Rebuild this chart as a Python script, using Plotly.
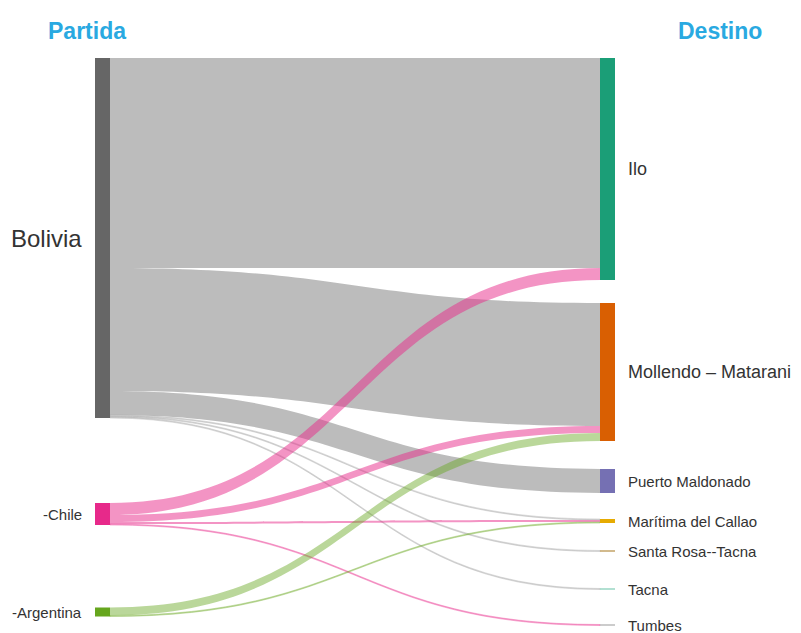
import plotly.graph_objects as go

# ---- data ----
origins = ["Bolivia", "-Chile", "-Argentina"]
destinations = ["Ilo", "Mollendo – Matarani", "Puerto Maldonado", "Marítima del Callao",
                "Santa Rosa--Tacna", "Tacna", "Tumbes"]
link_from = ["Bolivia", "Bolivia", "Bolivia", "Bolivia", "Bolivia", "Bolivia",
             "-Chile", "-Chile", "-Chile", "-Chile",
             "-Argentina", "-Argentina"]
link_to = ["Ilo", "Mollendo – Matarani", "Puerto Maldonado", "Marítima del Callao", "Santa Rosa--Tacna", "Tacna",
           "Ilo", "Mollendo – Matarani", "Marítima del Callao", "Tumbes",
           "Mollendo – Matarani", "Marítima del Callao"]
link_value = [210, 123, 24, 1, 1, 1,
              12, 7, 2, 1,
              8, 1]

# ---- styling / layout ----
W, H = 801, 633
L, R, T, B = 95, 615, 58, 626      # wanted node extent (px)
ml, mt = L, T
pw, ph = R - L, B - T
node_thick = 15
origin_colors = ["#666666", "#e7298a", "#66a61e"]
origin_link_rgb = ["160,160,160", "231,41,138", "102,166,30"]
origin_link_alpha = [0.7, 0.5, 0.45]
thin_alpha = 0.35
dest_colors = ["#1b9e77", "#d95f02", "#7570b3", "#e6ab02", "#a6761d", "#66c2a5", "#999999"]
origin_cy = [238, 514, 612]            # node centres (px)
dest_cy = [169, 372, 481, 521, 551, 589, 625]
origin_fs = [24, 15, 15]
dest_fs = [18, 18, 15, 15, 15, 15, 15]

names = origins + destinations
idx = {n: i for i, n in enumerate(names)}
xs = [(node_thick / 2) / pw] * len(origins) + [(pw - node_thick / 2) / pw] * len(destinations)
ys = [(c - T) / ph for c in origin_cy + dest_cy]


def px_x(p):
    return (p - ml) / pw


def px_y(p):
    return 1 - (p - mt) / ph


link_colors = []
for s, v in zip(link_from, link_value):
    k = origins.index(s)
    a = origin_link_alpha[k] if v > 1 else thin_alpha
    link_colors.append("rgba(%s,%s)" % (origin_link_rgb[k], a))

fig = go.Figure(go.Sankey(
    arrangement="fixed",
    domain=dict(x=[0, 1], y=[0, 1]),
    node=dict(
        label=["" for _ in names],
        customdata=names,
        hovertemplate="%{customdata}<extra></extra>",
        x=xs, y=ys,
        pad=29.5, thickness=node_thick,
        color=origin_colors + dest_colors,
        line=dict(width=0),
    ),
    link=dict(
        source=[idx[s] for s in link_from],
        target=[idx[t] for t in link_to],
        value=link_value,
        color=link_colors,
    ),
))

ann = []
for n, cy, fs in zip(origins, origin_cy, origin_fs):
    ann.append(dict(text=n, xref="paper", yref="paper", x=px_x(L - 11), y=px_y(cy),
                    xanchor="right", yanchor="middle", showarrow=False,
                    font=dict(size=fs, color="#333333")))
for n, cy, fs in zip(destinations, dest_cy, dest_fs):
    ann.append(dict(text=n, xref="paper", yref="paper", x=px_x(R + 11), y=px_y(cy),
                    xanchor="left", yanchor="middle", showarrow=False,
                    font=dict(size=fs, color="#333333")))
for txt, px in [("Partida", 87), ("Destino", 720)]:
    ann.append(dict(text="<b>%s</b>" % txt, xref="paper", yref="paper",
                    x=px_x(px), y=px_y(31), xanchor="center", yanchor="middle",
                    showarrow=False, font=dict(size=23, color="#29a9e1")))

fig.update_layout(
    width=W, height=H,
    margin=dict(l=ml, r=W - ml - pw, t=mt, b=H - mt - ph),
    paper_bgcolor="white", plot_bgcolor="white",
    font=dict(family="Liberation Sans, Arial, sans-serif", color="#333333"),
    annotations=ann,
)
fig.write_html("out.html", config={"displayModeBar": False},
               post_script="document.body.style.margin='0';document.body.style.overflow='hidden';")
